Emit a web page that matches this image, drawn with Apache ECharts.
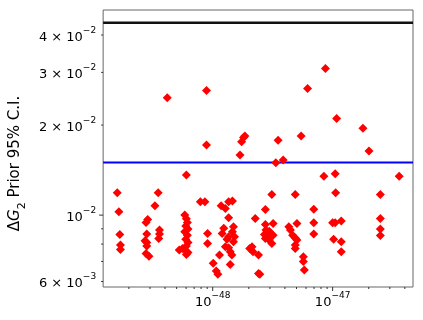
<!DOCTYPE html>
<html>
<head>
<meta charset="utf-8">
<script src="https://cdn.jsdelivr.net/npm/echarts@6/dist/echarts.min.js"></script>
<style>html,body{margin:0;padding:0;background:#fff}#c{width:423px;height:320px}</style>
</head>
<body>
<div id="c"></div>
<script>
// Data
const xVals = [
1.60e-49,1.65e-49,1.68e-49,1.70e-49,1.70e-49,
2.87e-49,2.78e-49,2.82e-49,2.73e-49,2.82e-49,2.82e-49,2.78e-49,2.94e-49,
3.51e-49,3.30e-49,3.60e-49,3.60e-49,3.55e-49,
4.18e-49,
6.03e-49,5.85e-49,6.03e-49,6.15e-49,5.96e-49,6.22e-49,5.85e-49,6.15e-49,5.96e-49,6.22e-49,6.03e-49,5.60e-49,5.26e-49,5.96e-49,6.22e-49,6.03e-49,
7.89e-49,8.61e-49,8.88e-49,8.88e-49,9.06e-49,9.06e-49,
1.01e-48,1.07e-48,1.105e-48,1.14e-48,
1.176e-48,1.276e-48,1.358e-48,1.46e-48,1.358e-48,1.236e-48,1.198e-48,1.358e-48,1.49e-48,1.46e-48,1.52e-48,1.316e-48,1.49e-48,1.276e-48,1.358e-48,1.40e-48,1.445e-48,1.40e-48,
1.689e-48,1.742e-48,1.808e-48,1.854e-48,
2.264e-48,2.035e-48,2.128e-48,2.168e-48,2.41e-48,2.41e-48,2.47e-48,
2.75e-48,3.11e-48,2.75e-48,3.19e-48,2.78e-48,2.96e-48,2.70e-48,3.06e-48,2.87e-48,3.19e-48,2.75e-48,2.96e-48,3.11e-48,3.36e-48,3.87e-48,3.51e-48,
4.88e-48,5.04e-48,4.31e-48,4.45e-48,4.64e-48,4.88e-48,5.04e-48,4.88e-48,4.88e-48,
5.46e-48,5.70e-48,5.70e-48,5.81e-48,6.18e-48,
6.96e-48,6.96e-48,6.96e-48,
8.45e-48,8.71e-48,
1.05e-47,1.06e-47,1.08e-47,1.00e-47,1.05e-47,1.18e-47,1.02e-47,1.18e-47,1.18e-47,
1.79e-47,2.01e-47,
2.50e-47,2.50e-47,2.50e-47,2.50e-47,
3.59e-47
];
const yVals = [
1.188e-2,1.026e-2,8.62e-3,7.94e-3,7.68e-3,
9.67e-3,9.45e-3,8.64e-3,8.21e-3,8.10e-3,7.88e-3,7.44e-3,7.29e-3,
1.188e-2,1.075e-2,8.91e-3,8.64e-3,8.36e-3,
2.466e-2,
1.361e-2,1.000e-2,9.72e-3,9.45e-3,9.19e-3,8.98e-3,8.80e-3,8.57e-3,8.31e-3,8.10e-3,7.88e-3,7.74e-3,7.64e-3,7.60e-3,7.50e-3,7.39e-3,
1.108e-2,1.108e-2,2.612e-2,1.714e-2,8.68e-3,8.04e-3,
6.90e-3,6.50e-3,6.34e-3,7.35e-3,
1.075e-2,1.053e-2,1.108e-2,1.114e-2,9.80e-3,9.03e-3,8.68e-3,8.46e-3,9.14e-3,8.80e-3,8.46e-3,8.31e-3,8.14e-3,7.84e-3,7.78e-3,7.54e-3,7.35e-3,6.84e-3,
1.587e-2,1.759e-2,1.818e-2,1.837e-2,
9.75e-3,7.74e-3,7.84e-3,7.54e-3,7.35e-3,6.38e-3,6.34e-3,
1.045e-2,1.173e-2,9.31e-3,9.38e-3,8.91e-3,8.84e-3,8.62e-3,8.68e-3,8.46e-3,8.57e-3,8.36e-3,8.25e-3,8.04e-3,1.496e-2,1.528e-2,1.781e-2,
1.173e-2,9.38e-3,9.14e-3,8.91e-3,8.57e-3,8.38e-3,8.25e-3,7.94e-3,7.74e-3,
1.837e-2,7.26e-3,7.00e-3,6.55e-3,2.652e-2,
1.047e-2,9.43e-3,8.64e-3,
1.350e-2,3.094e-2,
1.375e-2,1.188e-2,2.105e-2,9.43e-3,9.43e-3,9.55e-3,8.31e-3,8.14e-3,7.54e-3,
1.950e-2,1.637e-2,
1.173e-2,9.75e-3,8.98e-3,8.55e-3,
1.350e-2
];
const refLineBlack = 0.044;
const refLineBlue = 0.015;
const xRange = [1.22e-49, 4.68e-47];
const yRange = [5.75e-3, 4.85e-2];
const xMajorTicks = [1e-48, 1e-47];
const xMinorTicks = [2e-49,3e-49,4e-49,5e-49,6e-49,7e-49,8e-49,9e-49,
                     2e-48,3e-48,4e-48,5e-48,6e-48,7e-48,8e-48,9e-48,
                     2e-47,3e-47,4e-47];
const yMajorTicks = [1e-2];
const yMinorTicks = [6e-3,7e-3,8e-3,9e-3,2e-2,3e-2,4e-2];
const yLabelTicks = [6e-3,1e-2,2e-2,3e-2,4e-2];

const points = xVals.map((x, i) => [x, yVals[i]]);
const FONT = 'DejaVu Sans';
const tickColor = '#333';

const supRich = {
  b: {fontFamily: FONT, fontSize: 13, lineHeight: 18, fill: '#000', color: '#000', verticalAlign: 'bottom'},
  s: {fontFamily: FONT, fontSize: 9, lineHeight: 9, fill: '#000', color: '#000', verticalAlign: 'top'}
};
function expOf(v) { return Math.floor(Math.log10(v) + 1e-9); }
function xFmt(v) { const e = expOf(v); return '{b|10}{s|\u2212' + (-e) + '}'; }
function yFmt(v) {
  const e = expOf(v); const m = Math.round(v / Math.pow(10, e));
  return (m === 1 ? '{b|10}' : '{b|' + m + ' \u00d7 10}') + '{s|\u2212' + (-e) + '}';
}

// tick / label series drawn through the axis scales
function xTickSeries(vals, len, withLabel) {
  return {
    type: 'custom', xAxisIndex: 0, yAxisIndex: 0, silent: true, clip: false, z: 5,
    data: vals.map(v => [v, yRange[0]]),
    encode: {x: 0, y: 1},
    renderItem: function (params, api) {
      const p = api.coord([api.value(0), api.value(1)]);
      const children = [{type: 'line', shape: {x1: p[0], y1: p[1], x2: p[0], y2: p[1] + len},
                         style: {stroke: tickColor, lineWidth: 1}}];
      if (withLabel) {
        children.push({type: 'text', x: p[0], y: p[1] + 4,
          style: {text: xFmt(api.value(0)), rich: supRich, align: 'center', verticalAlign: 'top', fill: '#000'}});
      }
      return {type: 'group', children: children};
    }
  };
}
function yTickSeries(vals, len) {
  return {
    type: 'custom', xAxisIndex: 0, yAxisIndex: 0, silent: true, clip: false, z: 5,
    data: vals.map(v => [xRange[0], v]),
    encode: {x: 0, y: 1},
    renderItem: function (params, api) {
      const p = api.coord([api.value(0), api.value(1)]);
      return {type: 'line', shape: {x1: p[0] - len, y1: p[1], x2: p[0], y2: p[1]},
              style: {stroke: tickColor, lineWidth: 1}};
    }
  };
}

const chart = echarts.init(document.getElementById('c'), null, {renderer: 'canvas'});
chart.setOption({
  animation: false,
  backgroundColor: '#fff',
  grid: {left: 95, right: 10, top: 10, bottom: 33, show: true, borderColor: '#666', borderWidth: 1, backgroundColor: 'transparent'},
  xAxis: [
    {type: 'log', logBase: 10, min: xRange[0], max: xRange[1], position: 'bottom',
     axisLine: {show: false}, splitLine: {show: false}, axisTick: {show: false}, axisLabel: {show: false}}
  ],
  yAxis: [
    {type: 'log', logBase: 10, min: yRange[0], max: yRange[1], position: 'left',
     axisLine: {show: false}, splitLine: {show: false}, axisTick: {show: false},
     axisLabel: {show: true, customValues: yLabelTicks, formatter: yFmt, rich: supRich, margin: 7},
     name: '{t|\u0394}{i|G}{sub|2}{t| Prior 95% C.I.}',
     nameLocation: 'middle', nameRotate: 90, nameGap: 57,
     nameTextStyle: {fontFamily: FONT, fontSize: 15, color: '#000', padding: [0, 30, 0, 0],
       rich: {
         t: {fontFamily: FONT, fontSize: 15, lineHeight: 20, color: '#000', verticalAlign: 'top'},
         i: {fontFamily: FONT, fontSize: 15, lineHeight: 20, fontStyle: 'italic', color: '#000', verticalAlign: 'top'},
         sub: {fontFamily: FONT, fontSize: 11, lineHeight: 8, color: '#000', verticalAlign: 'bottom'}
       }}}
  ],
  series: [
    {type: 'line', xAxisIndex: 0, yAxisIndex: 0, z: 1, silent: true, showSymbol: false, symbol: 'none',
     data: [[xRange[0], refLineBlack], [xRange[1], refLineBlack]],
     lineStyle: {color: '#111', width: 2.5}},
    {type: 'line', xAxisIndex: 0, yAxisIndex: 0, z: 1, silent: true, showSymbol: false, symbol: 'none',
     data: [[xRange[0], refLineBlue], [xRange[1], refLineBlue]],
     lineStyle: {color: '#0000ff', width: 2}},
    {type: 'scatter', xAxisIndex: 0, yAxisIndex: 0, z: 3, data: points,
     symbol: 'diamond', symbolSize: 9, itemStyle: {color: '#ff0000', opacity: 1}},
    xTickSeries(xMajorTicks, 4, true),
    xTickSeries(xMinorTicks, 2, false),
    yTickSeries(yMajorTicks, 4),
    yTickSeries(yMinorTicks, 2)
  ]
});
</script>
</body>
</html>
